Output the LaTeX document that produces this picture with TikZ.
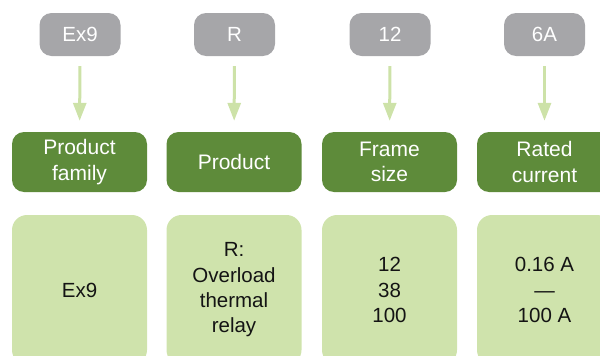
\documentclass[tikz,border=0pt]{standalone}
\usepackage{fontspec}
\setmainfont{Liberation Sans}
\usetikzlibrary{arrows.meta}
\definecolor{codegray}{RGB}{166,166,169}
\definecolor{darkgreen}{RGB}{94,139,58}
\definecolor{lightgreen}{RGB}{207,227,172}
\definecolor{arrowgreen}{RGB}{205,226,168}
\definecolor{bodytext}{RGB}{20,20,20}
\tikzset{
  codebox/.style={rectangle, rounded corners=12pt, fill=codegray, text=white,
    minimum width=81pt, minimum height=43pt, inner sep=0pt,
    font=\fontsize{20.5}{25}\selectfont},
  headbox/.style={rectangle, rounded corners=12pt, fill=darkgreen, text=white,
    minimum width=135pt, minimum height=60pt, inner sep=0pt, align=center,
    font=\fontsize{21}{25.5}\selectfont},
  valbox/.style={rectangle, rounded corners=15pt, fill=lightgreen, text=bodytext,
    minimum width=135pt, minimum height=150pt, inner sep=0pt, align=center,
    font=\fontsize{20.5}{25.3}\selectfont},
  downarrow/.style={draw=arrowgreen, line width=3pt,
    -{Triangle[width=13pt,length=18pt]}, shorten <=10pt, shorten >=11pt}
}
\begin{document}
\begin{tikzpicture}[x=1pt,y=-1pt]
\useasboundingbox (0,0) rectangle (600,356);
% code boxes
\node[codebox] (c1) at (80,34.5) {Ex9};
\node[codebox] (c2) at (234.5,34.5) {R};
\node[codebox] (c3) at (390,34.5) {12};
\node[codebox] (c4) at (544.5,34.5) {6A};
% heading boxes
\node[headbox] (h1) at (79.5,162) {Product\\family};
\node[headbox] (h2) at (234,162) {Product};
\node[headbox] (h3) at (389.5,162) {Frame\\size};
\node[headbox] (h4) at (544.5,162) {Rated\\current};
% value boxes
\node[valbox] (v1) at (79.5,290) {Ex9};
\node[valbox] (v2) at (234,290) {R:\\Overload\\thermal\\relay};
\node[valbox] (v3) at (389.5,290) {12\\38\\100};
\node[valbox] (v4) at (544.5,290) {0.16 A\\—\\100 A};
% arrows
\draw[downarrow] (c1) -- (h1);
\draw[downarrow] (c2) -- (h2);
\draw[downarrow] (c3) -- (h3);
\draw[downarrow] (c4) -- (h4);
\end{tikzpicture}
\end{document}
